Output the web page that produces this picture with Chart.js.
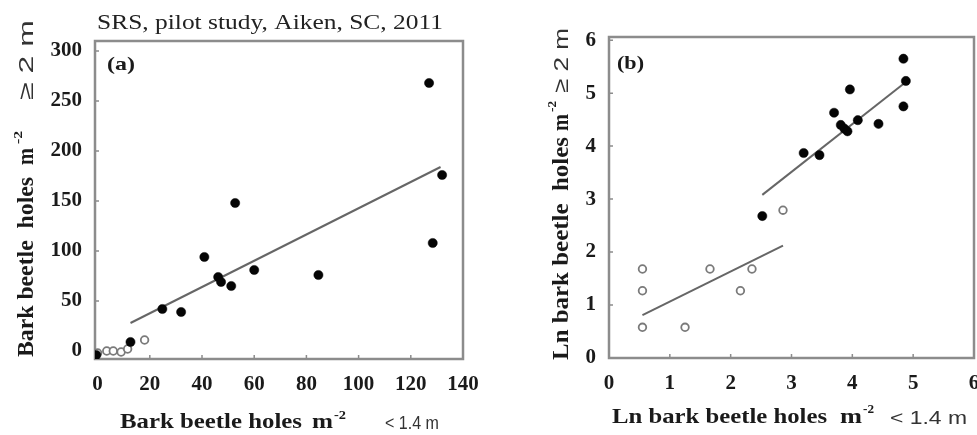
<!DOCTYPE html>
<html>
<head>
<meta charset="utf-8">
<script src="https://cdn.jsdelivr.net/npm/chart.js@4.4.0/dist/chart.umd.min.js"></script>
<style>
  body { margin: 0; background: #fff; }
  .panel { position: absolute; top: 0; }
</style>
</head>
<body>
<div class="panel" style="left:0"><canvas id="chartA" width="490" height="435"></canvas></div>
<div class="panel" style="left:490px"><canvas id="chartB" width="487" height="435"></canvas></div>
<script>
// (a) holes per m2, upper bole vs lower bole
const aFilledX = [127, 132, 128.4, 52.7, 40.9, 24.8, 32, 46.2, 47.3, 51.2, 60, 84.6, 12.6, -0.5];
const aFilledY = [268, 176, 108, 148, 94, 42, 39, 74, 69, 65, 81, 76, 9, -4];
const aOpenX = [0, 3.5, 6, 9, 11.5, 18];
const aOpenY = [-2, 0, 0, -1, 2, 11];
const aFitX = [12.6, 131.4];
const aFitY = [28, 184];
const aXTicks = [0, 20, 40, 60, 80, 100, 120, 140];
const aYTicks = [0, 50, 100, 150, 200, 250, 300];

// (b) same data, log scale
const bFilledX = [4.84, 4.88, 4.84, 3.96, 3.70, 3.81, 3.87, 3.92, 4.09, 4.43, 3.20, 3.46, 2.52];
const bFilledY = [5.65, 5.23, 4.75, 5.07, 4.63, 4.40, 4.33, 4.28, 4.49, 4.42, 3.87, 3.83, 2.68];
const bOpenX = [2.86, 0.55, 0.55, 0.55, 1.25, 1.66, 2.16, 2.35];
const bOpenY = [2.79, 1.68, 1.27, 0.58, 0.58, 1.68, 1.27, 1.68];
const bFitHighX = [2.52, 4.88];
const bFitHighY = [3.08, 5.21];
const bFitLowX = [0.55, 2.86];
const bFitLowY = [0.81, 2.12];
const bXTicks = [0, 1, 2, 3, 4, 5, 6];
const bYTicks = [0, 1, 2, 3, 4, 5, 6];

const SERIF = "'Liberation Serif', 'Times New Roman', serif";
const SANS = "'Liberation Sans', Arial, sans-serif";

function toPoints(xs, ys) {
    return xs.map((x, i) => ({ x: x, y: ys[i] }));
}

// draw a piece of text squeezed/stretched to a given length
function fitText(ctx, t) {
    const [text, font, x, y, w, color, vertical] = t;
    ctx.save();
    ctx.font = font;
    ctx.fillStyle = color || "#1a1a1a";
    ctx.textAlign = "left";
    ctx.textBaseline = "alphabetic";
    ctx.translate(x, y);
    if (vertical) ctx.rotate(-Math.PI / 2);
    const m = ctx.measureText(text).width;
    ctx.scale(w / m, 1);
    ctx.fillText(text, 0, 0);
    ctx.restore();
}

const decor = {
    id: "decor",
    beforeDatasetsDraw(chart) {
        const { ctx, chartArea: a, scales } = chart;
        ctx.save();
        ctx.strokeStyle = "#8c8c8c";
        ctx.lineWidth = 2.5;
        ctx.strokeRect(a.left, a.top, a.right - a.left, a.bottom - a.top);
        // small inward tick marks
        ctx.lineWidth = 1.5;
        ctx.beginPath();
        scales.x.ticks.forEach(t => {
            const px = scales.x.getPixelForValue(t.value);
            ctx.moveTo(px, a.bottom);
            ctx.lineTo(px, a.bottom - 4);
        });
        scales.y.ticks.forEach(t => {
            const py = scales.y.getPixelForValue(t.value);
            ctx.moveTo(a.left, py);
            ctx.lineTo(a.left + 4, py);
        });
        ctx.stroke();
        ctx.restore();
    },
    afterDraw(chart, args, opts) {
        (opts.texts || []).forEach(t => fitText(chart.ctx, t));
    }
};

function makeChart(id, cfg) {
    const datasets = [
        {
            data: toPoints(cfg.filledX, cfg.filledY),
            pointRadius: 4.6,
            pointBackgroundColor: "#050505",
            pointBorderColor: "#050505",
            pointBorderWidth: 0.5,
        },
        {
            data: toPoints(cfg.openX, cfg.openY),
            pointRadius: 3.8,
            pointBackgroundColor: "#ffffff",
            pointBorderColor: "#7a7a7a",
            pointBorderWidth: 1.8,
        },
    ];
    cfg.fits.forEach(f => {
        datasets.push({
            data: toPoints(f[0], f[1]),
            showLine: true,
            pointRadius: 0,
            borderColor: "#666666",
            borderWidth: 2,
        });
    });
    const tickFont = { family: SERIF, weight: "bold", size: 21 };
    return new Chart(document.getElementById(id), {
        type: "scatter",
        data: { datasets: datasets },
        options: {
            responsive: false,
            animation: false,
            layout: { autoPadding: false, padding: { top: cfg.top, right: cfg.right, left: 0, bottom: 0 } },
            plugins: {
                legend: { display: false },
                tooltip: { enabled: false },
                decor: { texts: cfg.texts },
            },
            scales: {
                x: {
                    type: "linear",
                    min: cfg.xMin,
                    max: cfg.xMax,
                    afterBuildTicks: s => { s.ticks = cfg.xTicks.map(v => ({ value: v })); },
                    afterFit: s => {
                        s.height = cfg.xAxisH;
                        s.paddingLeft = 0;
                        s.paddingRight = 0;
                    },
                    grid: { display: false, drawTicks: false },
                    border: { display: false },
                    ticks: { font: tickFont, color: "#1a1a1a", padding: 13, maxRotation: 0, autoSkip: false },
                },
                y: {
                    type: "linear",
                    min: cfg.yMin,
                    max: cfg.yMax,
                    afterBuildTicks: s => { s.ticks = cfg.yTicks.map(v => ({ value: v })); },
                    afterFit: s => {
                        s.width = cfg.yAxisW;
                        s.paddingTop = 0;
                        s.paddingBottom = 0;
                    },
                    grid: { display: false, drawTicks: false },
                    border: { display: false },
                    ticks: { font: tickFont, color: "#1a1a1a", padding: 13, autoSkip: false },
                },
            },
        },
        plugins: [decor],
    });
}

makeChart("chartA", {
    filledX: aFilledX, filledY: aFilledY,
    openX: aOpenX, openY: aOpenY,
    fits: [[aFitX, aFitY]],
    xTicks: aXTicks, yTicks: aYTicks,
    xMin: -1, xMax: 140, yMin: -8, yMax: 310,
    top: 41, right: 27, yAxisW: 95, xAxisH: 76,
    texts: [
        ["SRS, pilot study, Aiken, SC, 2011", "21px " + SERIF, 97, 29, 346, "#222"],
        ["(a)", "bold 19px " + SERIF, 107, 70, 28],
        ["Bark beetle holes", "bold 22px " + SERIF, 120, 428, 182],
        ["m", "bold 22px " + SERIF, 312, 428, 21],
        ["-2", "bold 13px " + SERIF, 334, 419, 12],
        ["< 1.4 m", "19px " + SANS, 385, 429, 54, "#333"],
        ["Bark beetle  holes", "bold 23px " + SERIF, 33, 357, 180, null, true],
        ["m", "bold 23px " + SERIF, 33, 165, 17, null, true],
        ["-2", "bold 13px " + SERIF, 22, 144, 13, null, true],
        ["\u2265 2 m", "21px " + SANS, 33, 100, 80, "#333", true],
    ],
});

makeChart("chartB", {
    filledX: bFilledX, filledY: bFilledY,
    openX: bOpenX, openY: bOpenY,
    fits: [[bFitHighX, bFitHighY], [bFitLowX, bFitLowY]],
    xTicks: bXTicks, yTicks: bYTicks,
    xMin: 0, xMax: 6, yMin: 0, yMax: 6.06,
    top: 37, right: 3, yAxisW: 119, xAxisH: 77,
    texts: [
        ["(b)", "bold 19px " + SERIF, 127, 69, 27],
        ["Ln bark beetle holes", "bold 22px " + SERIF, 122, 423, 215],
        ["m", "bold 22px " + SERIF, 350, 423, 22],
        ["-2", "bold 13px " + SERIF, 373, 413, 11],
        ["< 1.4 m", "18px " + SANS, 400, 424, 77, "#333"],
        ["Ln bark beetle  holes", "bold 23px " + SERIF, 78, 360, 223, null, true],
        ["m", "bold 23px " + SERIF, 78, 131, 17, null, true],
        ["-2", "bold 13px " + SERIF, 66, 112, 11, null, true],
        ["\u2265 2 m", "21px " + SANS, 78, 93, 65, "#333", true],
    ],
});
</script>
</body>
</html>
